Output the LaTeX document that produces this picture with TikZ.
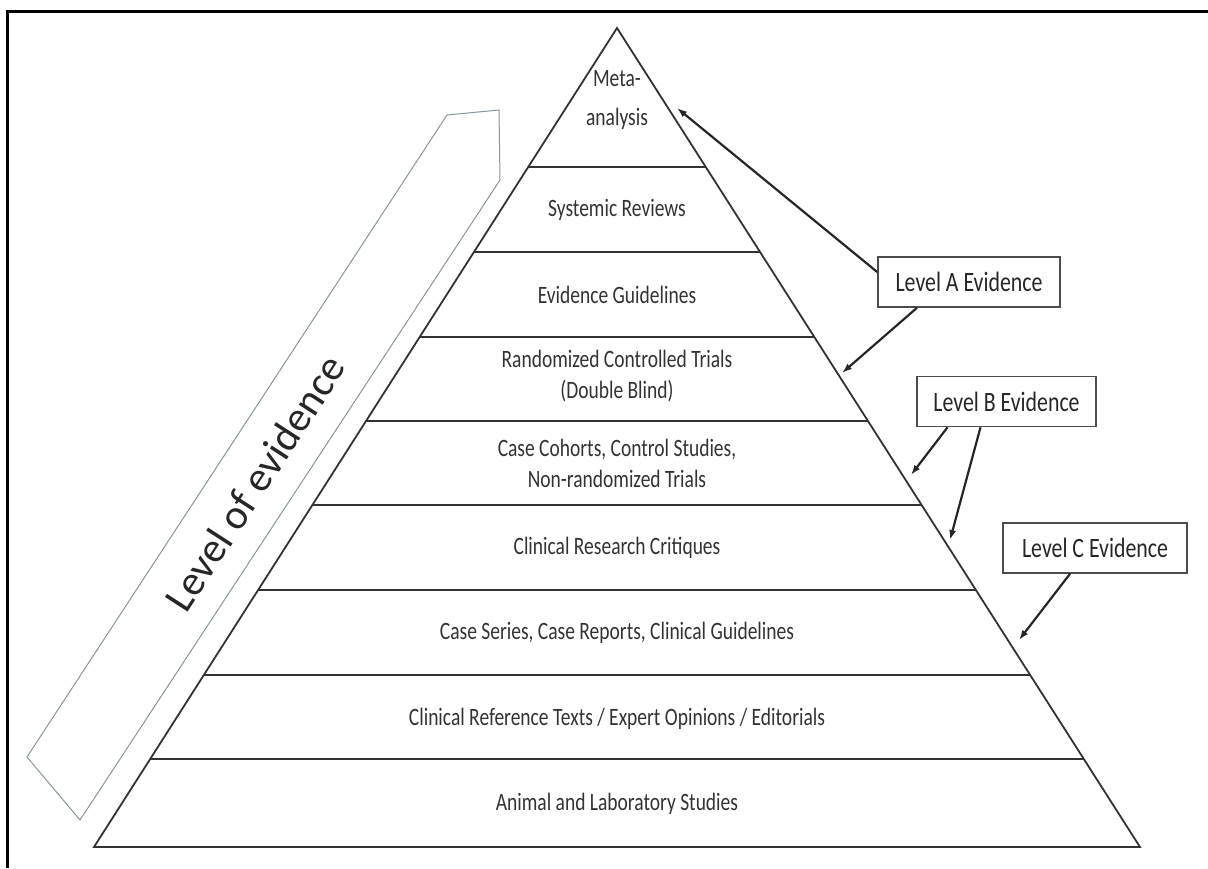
\documentclass[tikz,border=0pt]{standalone}
\usepackage{fontspec}
\setmainfont[FakeStretch=0.78]{Carlito}
\newfontfamily\evfont{Carlito}
\usepackage{tikz}
\usetikzlibrary{arrows.meta,positioning,calc}
\definecolor{arrline}{RGB}{135,150,155}
\tikzset{
  layer/.style={font=\fontsize{25}{31}\selectfont, text=black!80, align=center},
  lvbox/.style={draw=black!70, line width=1.6pt, font=\fontsize{28}{34}\selectfont, text=black!85, minimum width=182pt, minimum height=50pt, inner sep=0pt},
  pyr/.style={draw=black!80, line width=1.8pt},
  arr/.style={-{Latex[length=10pt,width=7pt]}, line width=2.2pt, black!85},
  bigarr/.style={draw=arrline, line width=1pt}}

\begin{document}
\begin{tikzpicture}[x=1pt,y=-1pt]
  \useasboundingbox (0,0) rectangle (1208,868);
  \draw[line width=3pt] (7,868) -- (7,11) -- (1208,11);
  % pyramid
  \coordinate (top) at (617,28); \coordinate (bl) at (94,847); \coordinate (br) at (1140,847);
  \draw[pyr, line join=miter] (top) -- (br) -- (bl) -- cycle;
  \foreach \y in {167,252,337,421,505,590,675,759}
    \draw[pyr] ({617-0.6386*(\y-28)},\y) -- ({617+0.6386*(\y-28)},\y);
  \node[layer] (meta) at (617,100) {Meta-\\[8pt]analysis};
  \node[layer] (sysrev) at (617,210) {Systemic Reviews};
  \node[layer] (evguide) at (617,295) {Evidence Guidelines};
  \node[layer] (rct) at (617,376) {Randomized Controlled Trials\\(Double Blind)};
  \node[layer] (cohort) at (617,463) {Case Cohorts, Control Studies,\\Non-randomized Trials};
  \node[layer] (critique) at (617,548) {Clinical Research Critiques};
  \node[layer] (series) at (617,633) {Case Series, Case Reports, Clinical Guidelines};
  \node[layer] (reftext) at (617,719) {Clinical Reference Texts / Expert Opinions / Editorials};
  \node[layer] (animal) at (617,804) {Animal and Laboratory Studies};
  % level of evidence arrow
  \draw[bigarr] (447,115) -- (499,110) -- (500,180) -- (80,820) -- (27,757) -- cycle;
  \node[font=\evfont\fontsize{42}{50}\selectfont, text=black!85, rotate=57] (loe) at (255,483) {Level of evidence};
  % level boxes
  \node[lvbox] (lvA) at (969,282) {Level A Evidence};
  \node[lvbox, minimum width=179pt] (lvB) at (1006.5,401.5) {Level B Evidence};
  \node[lvbox, minimum width=184pt] (lvC) at (1095,548) {Level C Evidence};
  \coordinate (tA1) at (677,108); \coordinate (tA2) at (842,373);
  \coordinate (tB1) at (911,475); \coordinate (tB2) at (950,540);
  \coordinate (tC) at (1019,640);
  \draw[arr] ([yshift=10pt]lvA.west) -- (tA1);
  \draw[arr] ([xshift=-52pt]lvA.south) -- (tA2);
  \draw[arr] ([xshift=-59pt]lvB.south) -- (tB1);
  \draw[arr] ([xshift=-26pt]lvB.south) -- (tB2);
  \draw[arr] ([xshift=-25pt]lvC.south) -- (tC);
\end{tikzpicture}
\end{document}
